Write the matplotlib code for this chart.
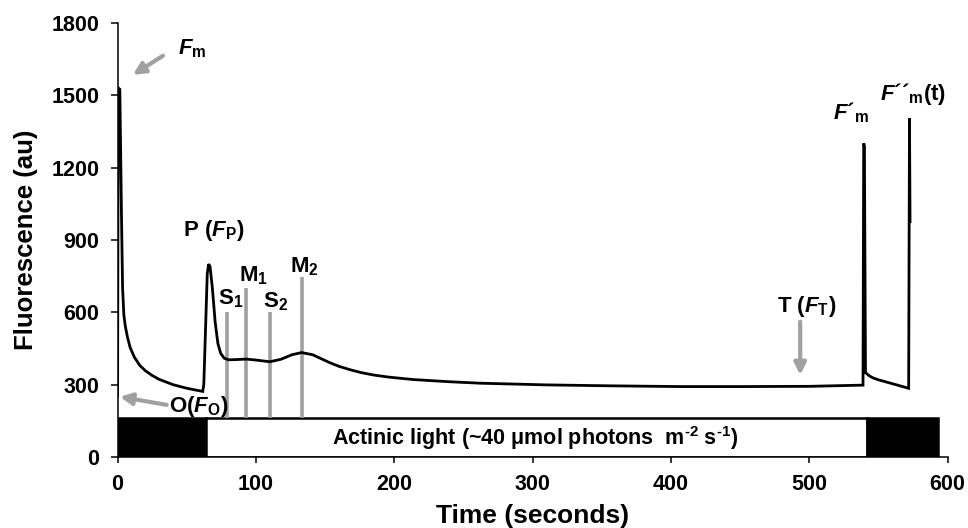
import matplotlib
matplotlib.use("Agg")
import matplotlib.pyplot as plt

plt.rcParams["font.family"] = ["Liberation Sans", "DejaVu Sans"]
plt.rcParams["font.weight"] = "bold"
plt.rcParams["mathtext.fontset"] = "custom"
plt.rcParams["mathtext.rm"] = "Liberation Sans:bold"
plt.rcParams["mathtext.bf"] = "Liberation Sans:bold"
plt.rcParams["mathtext.it"] = "Liberation Sans:italic:bold"
plt.rcParams["mathtext.bfit"] = "Liberation Sans:italic:bold"

# Chlorophyll fluorescence induction trace (time in s, fluorescence in au)
time_s = [0, 0.4, 1.6, 2.8, 3.6, 4.5, 5.5, 7, 9, 12,
          16, 20, 25, 30, 40, 50, 61.5, 62.3, 63.5, 64.8,
          65.8, 66.8, 68.5, 70.5, 72.5, 74.5, 77, 80, 86, 93,
          100, 110, 118, 126, 133, 141, 147, 153, 160, 168,
          176, 185, 195, 205, 214, 240, 262, 310, 358, 407,
          450, 500, 538.8, 539.3, 539.8, 540.6, 543, 546, 550, 571.8,
          572.4, 572.8]
fluor = [255, 1531, 1525, 1000, 700, 590, 545, 500, 455, 415,
         380, 358, 338, 322, 300, 285, 272, 300, 520, 760,
         800, 790, 700, 560, 470, 430, 410, 403, 404, 406,
         402, 395, 405, 424, 433, 424, 408, 392, 376, 362,
         350, 340, 332, 326, 321, 312, 306, 299, 295, 292,
         292, 293, 298, 1301, 1290, 350, 338, 328, 320, 285,
         1404, 976]

# S/M transient markers: time, top of marker line, label
marker_time = [79.3, 92.8, 110.2, 133.1]
marker_top = [603, 700, 603, 746]
marker_names = [r"S$_\mathbf{1}$", r"M$_\mathbf{1}$", r"S$_\mathbf{2}$", r"M$_\mathbf{2}$"]

# Light regime bar: dark / actinic light / dark
phase_start = [0, 64, 542]
phase_end = [64, 542, 593]
phase_fill = ["black", "white", "black"]
bar_height = 160

gray = "#a0a0a0"

fig = plt.figure(figsize=(9.68, 5.28), dpi=100)
ax = fig.add_axes([0.1215, 0.1345, 0.8575, 0.822])

# light regime bar
for s, e, c in zip(phase_start, phase_end, phase_fill):
    ax.add_patch(plt.Rectangle((s, 0), e - s, bar_height, facecolor=c,
                               edgecolor="black", linewidth=1.8, zorder=2))
ax.text(302, bar_height / 2,
        r"Actinic light (~40 μmol photons  m$^{\text{-2}}$ s$^{\text{-1}}$)",
        ha="center", va="center", fontsize=15.5, fontweight="bold", zorder=3)

# S/M marker lines
ax.vlines(marker_time, bar_height, marker_top, colors=gray, linewidth=2.6, zorder=3)

# fluorescence trace
ax.plot(time_s, fluor, color="black", linewidth=2.0, zorder=4,
        solid_joinstyle="miter")

lab = dict(fontsize=16, fontweight="bold", ha="left", va="baseline")
ax.text(43.7, 1668, r"$\mathbfit{F}_\mathbf{m}$", **lab)
ax.text(47.5, 917, r"P ($\mathbfit{F}_\mathbf{P}$)", **lab)
label_pos = [(72.6, 634), (87.8, 727), (105.1, 620), (124.7, 766)]
for (x, y), name in zip(label_pos, marker_names):
    ax.text(x, y, name, **lab)
ax.text(37.3, 188, r"O($\mathbfit{F}_\mathbf{O}$)", **lab)
ax.text(476.6, 603, r"T ($\mathbfit{F}_\mathbf{T}$)", **lab)
ax.text(517.3, 1398, r"$\mathbfit{F}$´$_\mathbf{m}$", **lab)
ax.text(551.3, 1481, r"$\mathbfit{F}$´´$_\mathbf{m}$(t)", **lab)

arrow = dict(arrowstyle="-|>,head_length=0.7,head_width=0.35", color=gray,
             lw=3, shrinkA=0, shrinkB=0)
ax.annotate("", xy=(11.1, 1585), xytext=(32.8, 1664), arrowprops=arrow)
ax.annotate("", xy=(1.7, 250), xytext=(35.5, 216), arrowprops=arrow)
ax.annotate("", xy=(493.4, 340), xytext=(493.4, 561), arrowprops=arrow)

ax.set_xlim(0, 600)
ax.set_ylim(0, 1800)
ax.set_xticks([0, 100, 200, 300, 400, 500, 600])
ax.set_yticks([0, 300, 600, 900, 1200, 1500, 1800])
ax.spines["top"].set_visible(False)
ax.spines["right"].set_visible(False)
for sp in ("left", "bottom"):
    ax.spines[sp].set_linewidth(1.1)
ax.tick_params(axis="y", length=5, width=1.1, pad=8, labelsize=15.5)
ax.tick_params(axis="x", length=4, width=1.1, pad=8, labelsize=15.5)
for t in ax.get_xticklabels() + ax.get_yticklabels():
    t.set_fontweight("bold")

ax.set_xlabel("Time (seconds)", fontsize=19, fontweight="bold", labelpad=7)
ax.set_ylabel("Fluorescence (au)", fontsize=18.5, fontweight="bold", labelpad=10)

fig.savefig("out.png", dpi=100)
